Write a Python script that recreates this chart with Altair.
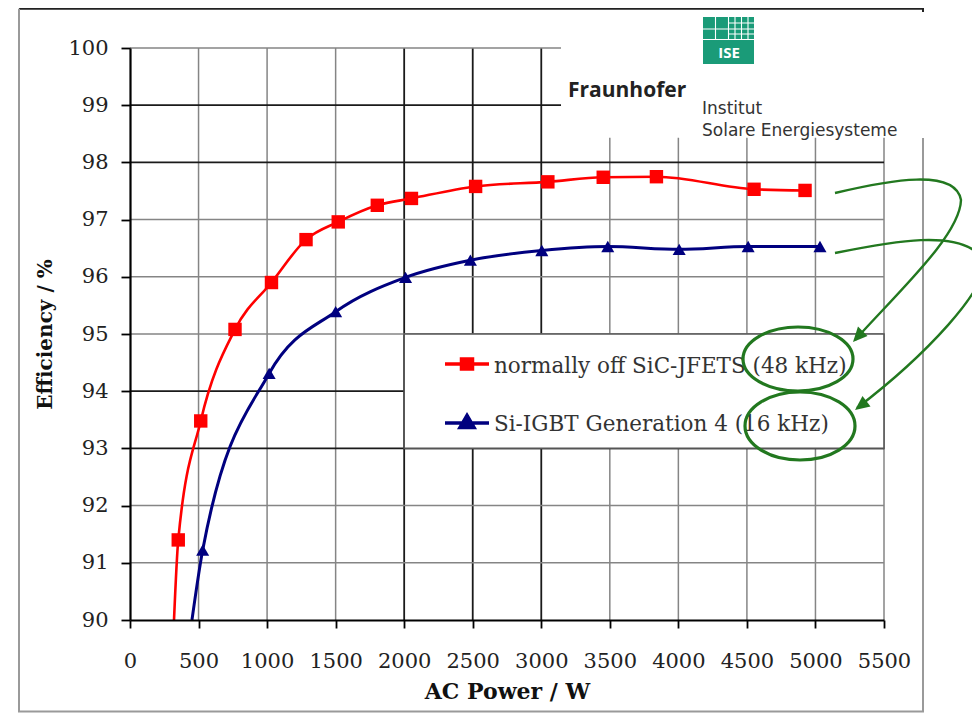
import altair as alt
import pandas as pd

# ---------------- data ----------------
series = ["normally off SiC-JFETS (48 kHz)", "Si-IGBT Generation 4 (16 kHz)"]

red_power = [352, 516, 766, 1032, 1284, 1519, 1804, 2053, 2521, 3048, 3452, 3840, 4552, 4924]
red_eff = [91.40, 93.48, 95.08, 95.90, 96.65, 96.96, 97.25, 97.37, 97.58, 97.66, 97.74, 97.75, 97.53, 97.51]
red_entry_power = 321   # where the red curve leaves the 90 % line

blue_power = [530, 1015, 1500, 2010, 2483, 3004, 3485, 4006, 4509, 5033]
blue_eff = [91.22, 94.31, 95.39, 95.99, 96.29, 96.46, 96.53, 96.48, 96.53, 96.53]
blue_entry_power = 452  # where the blue curve leaves the 90 % line

x_ticks = [0, 500, 1000, 1500, 2000, 2500, 3000, 3500, 4000, 4500, 5000, 5500]
y_ticks = [90, 91, 92, 93, 94, 95, 96, 97, 98, 99, 100]

# ---------------- styling ----------------
RED = "#ff0000"
NAVY = "#00007f"
GREEN = "#22781f"
LOGO = "#1a9b78"
DARK = "#1a1a1a"
LIGHT = "#858585"
SERIF = "DejaVu Serif"
SANS = "Open Sans"

OX, OY = 130, 48          # plot origin on the page (px)
W, H = 754, 572

xs = alt.Scale(domain=[x_ticks[0], x_ticks[-1]], nice=False, zero=False)
ys = alt.Scale(domain=[y_ticks[0], y_ticks[-1]], nice=False, zero=False)

x_axis = alt.Axis(
    values=x_ticks, format="d", title="AC Power / W", grid=False, zindex=1,
    labelFont=SERIF, labelFontSize=21, labelColor="#222", labelPadding=22,
    labelFlush=False, labelOverlap=False,
    titleFont=SERIF, titleFontSize=22, titleFontWeight="bold", titleColor="#111", titlePadding=10,
    tickSize=8, tickColor="#000", tickWidth=1.8, domainColor="#000", domainWidth=2.2,
)
y_axis = alt.Axis(
    values=y_ticks, format="d", title="Efficiency / %", grid=False, zindex=1,
    labelFont=SERIF, labelFontSize=21, labelColor="#222", labelPadding=13,
    labelFlush=False, labelOverlap=False,
    titleFont=SERIF, titleFontSize=20, titleFontWeight="bold", titleColor="#111", titlePadding=12,
    tickSize=9, tickColor="#000", tickWidth=1.8, domainColor="#000", domainWidth=2.2,
)


def X(field):
    return alt.X(field, scale=xs, axis=x_axis)


def Y(field):
    return alt.Y(field, scale=ys, axis=y_axis)


# where the logo block hides the grid
logo_bottom_eff = 98.43
logo_left_power = 3144

# ---------------- grid ----------------
dark_x = {2000, 2500, 3000}
dark_y = {93, 94, 98, 99}

vgrid = pd.DataFrame({
    "x": x_ticks[1:],
    "y": [y_ticks[0]] * (len(x_ticks) - 1),
    "y2": [y_ticks[-1] if v <= 3000 else logo_bottom_eff for v in x_ticks[1:]],
    "c": [DARK if v in dark_x else LIGHT for v in x_ticks[1:]],
    "w": [1.8 if v in dark_x else 1.5 for v in x_ticks[1:]],
})
hgrid = pd.DataFrame({
    "y": y_ticks[1:],
    "x": [x_ticks[0]] * (len(y_ticks) - 1),
    "x2": [logo_left_power if v >= 99 else x_ticks[-1] for v in y_ticks[1:]],
    "c": [DARK if v in dark_y else LIGHT for v in y_ticks[1:]],
    "w": [1.8 if v in dark_y else 1.5 for v in y_ticks[1:]],
})

vg = alt.Chart(vgrid).mark_rule().encode(
    x=X("x:Q"), y=Y("y:Q"), y2="y2:Q",
    color=alt.Color("c:N", scale=None),
    strokeWidth=alt.StrokeWidth("w:Q", scale=None),
)
hg = alt.Chart(hgrid).mark_rule().encode(
    y=Y("y:Q"), x=X("x:Q"), x2="x2:Q",
    color=alt.Color("c:N", scale=None),
    strokeWidth=alt.StrokeWidth("w:Q", scale=None),
)

# legend box (covers the grid between 2000-5500 W and 93-95 %)
box_df = pd.DataFrame({"x": [x_ticks[4]], "x2": [x_ticks[-1]], "y": [y_ticks[3]], "y2": [y_ticks[5]]})
legend_box = alt.Chart(box_df).mark_rect(fill="white", stroke="#555", strokeWidth=1.6).encode(
    x=X("x:Q"), x2="x2:Q", y=Y("y:Q"), y2="y2:Q",
)

# ---------------- curves ----------------
line_df = pd.DataFrame({
    "power": [red_entry_power] + red_power + [blue_entry_power] + blue_power,
    "eff": [y_ticks[0]] + red_eff + [y_ticks[0]] + blue_eff,
    "series": [series[0]] * (len(red_power) + 1) + [series[1]] * (len(blue_power) + 1),
})
mark_df = pd.DataFrame({
    "power": red_power + blue_power,
    "eff": red_eff + blue_eff,
    "series": [series[0]] * len(red_power) + [series[1]] * len(blue_power),
})

color_enc = alt.Color("series:N", scale=alt.Scale(domain=series, range=[RED, NAVY]), legend=None)

lines = alt.Chart(line_df).mark_line(interpolate="monotone", clip=True).encode(
    x=X("power:Q"), y=Y("eff:Q"),
    color=color_enc,
    strokeWidth=alt.StrokeWidth("series:N", scale=alt.Scale(domain=series, range=[2.6, 3.0]), legend=None),
    detail="series:N",
)
markers = alt.Chart(mark_df).mark_point(filled=True, opacity=1).encode(
    x=X("power:Q"), y=Y("eff:Q"),
    color=color_enc,
    shape=alt.Shape("series:N", scale=alt.Scale(domain=series, range=["square", "triangle-up"]), legend=None),
    size=alt.Size("series:N", scale=alt.Scale(domain=series, range=[180, 170]), legend=None),
)

# ---------------- helpers for decorations (pixel paths, size 4 = scale 1) ----------------
one = pd.DataFrame({"a": [0]})


def page_path(path, color, width, filled=False):
    """A path written in page pixels, drawn by a point placed at the page origin."""
    kw = dict(shape=path, size=4, opacity=1, filled=filled, color=color)
    if not filled:
        kw["strokeWidth"] = width
    return alt.Chart(one).mark_point(**kw).encode(x=alt.value(-OX), y=alt.value(-OY))


def page_text(txt, px, py, font, size, color, weight="normal", align="left", baseline="alphabetic"):
    return alt.Chart(one).mark_text(
        text=txt, font=font, fontSize=size, fontWeight=weight, color=color,
        align=align, baseline=baseline,
    ).encode(x=alt.value(px - OX), y=alt.value(py - OY))


def ellipse(cx, cy, rx, ry):
    k = 0.5523
    return (f"M {cx-rx} {cy} C {cx-rx} {cy-k*ry} {cx-k*rx} {cy-ry} {cx} {cy-ry} "
            f"C {cx+k*rx} {cy-ry} {cx+rx} {cy-k*ry} {cx+rx} {cy} "
            f"C {cx+rx} {cy+k*ry} {cx+k*rx} {cy+ry} {cx} {cy+ry} "
            f"C {cx-k*rx} {cy+ry} {cx-rx} {cy+k*ry} {cx-rx} {cy} Z")


# legend entries
leg_red_sym = alt.Chart(one).mark_point(
    shape="M -22 0 L 22 0 M -5.5 -5 L 5.5 -5 L 5.5 5 L -5.5 5 Z",
    size=4, filled=True, fill=RED, stroke=RED, strokeWidth=3.5, opacity=1,
).encode(x=alt.value(467 - OX), y=alt.value(364 - OY))
leg_blue_sym = alt.Chart(one).mark_point(
    shape="M -22 0 L 22 0 M 0 -7.5 L 7 4.5 L -7 4.5 Z",
    size=4, filled=True, fill=NAVY, stroke=NAVY, strokeWidth=3.5, opacity=1,
).encode(x=alt.value(467 - OX), y=alt.value(423 - OY))
leg_red_txt = page_text(series[0], 494, 373, SERIF, 21.5, "#333")
leg_blue_txt = page_text(series[1], 494, 431, SERIF, 21.5, "#333")

# outer frame
frame_top = page_path("M 19 8.8 L 923 8.8 L 923 12", "#222", 2)
frame_rest = page_path("M 19 8.8 L 19 711.5 L 923 711.5 L 923 138", "#9a9a9a", 2)

# Fraunhofer ISE logo
logo_box = alt.Chart(one).mark_rect(color=LOGO).encode(
    x=alt.value(703 - OX), x2=alt.value(754 - OX), y=alt.value(17 - OY), y2=alt.value(64 - OY)
)
logo_grid = page_path(
    "M 703 39.5 L 754 39.5 M 703 29 L 754 29 M 715.5 17 L 715.5 39.5 M 728.5 17 L 728.5 39.5 "
    "M 735 17 L 735 39.5 M 741.5 17 L 741.5 39.5 M 748 17 L 748 39.5 "
    "M 728.5 23 L 754 23 M 728.5 34 L 754 34",
    "white", 1.1,
)
logo_ise = page_text("ISE", 729, 52.5, SANS, 15, "white", weight="bold", align="center", baseline="middle")
t_fraun = page_text("Fraunhofer", 568, 97, SANS, 21, "#222", weight="bold")
t_inst = page_text("Institut", 702, 114, "DejaVu Sans", 17, "#333")
t_solar = page_text("Solare Energiesysteme", 702, 135.5, "DejaVu Sans", 17, "#333")

# green hand-drawn annotations
ell1 = page_path(ellipse(798, 359, 55, 32), GREEN, 3.2)
ell2 = page_path(ellipse(800, 426, 55, 34), GREEN, 3.2)
arr1 = page_path("M 835 193 C 890 180 955 168 961 200 C 960 235 900 290 855 340", GREEN, 2.4)
arr1_head = page_path("M 853 342 L 867.5 336 L 858 326.5 Z", GREEN, 1, filled=True)
arr2 = page_path("M 835 253 C 890 242 960 228 982 258 C 995 285 920 360 857 408", GREEN, 2.4)
arr2_head = page_path("M 855 410 L 870.5 406.5 L 862.5 396 Z", GREEN, 1, filled=True)

chart = alt.layer(
    vg, hg, legend_box, lines, markers,
    leg_red_sym, leg_blue_sym, leg_red_txt, leg_blue_txt,
    frame_top, frame_rest,
    logo_box, logo_grid, logo_ise, t_fraun, t_inst, t_solar,
    ell1, ell2, arr1, arr1_head, arr2, arr2_head,
).properties(
    width=W, height=H,
    padding={"left": OX - 8, "top": OY - 8, "right": 964 - (OX - 8) - W, "bottom": 705 - (OY - 8) - H},
    autosize=alt.AutoSizeParams(type="none"),
    background="white",
).configure_view(strokeWidth=0)

chart.save("out.html", embed_options={"renderer": "svg", "actions": False})
